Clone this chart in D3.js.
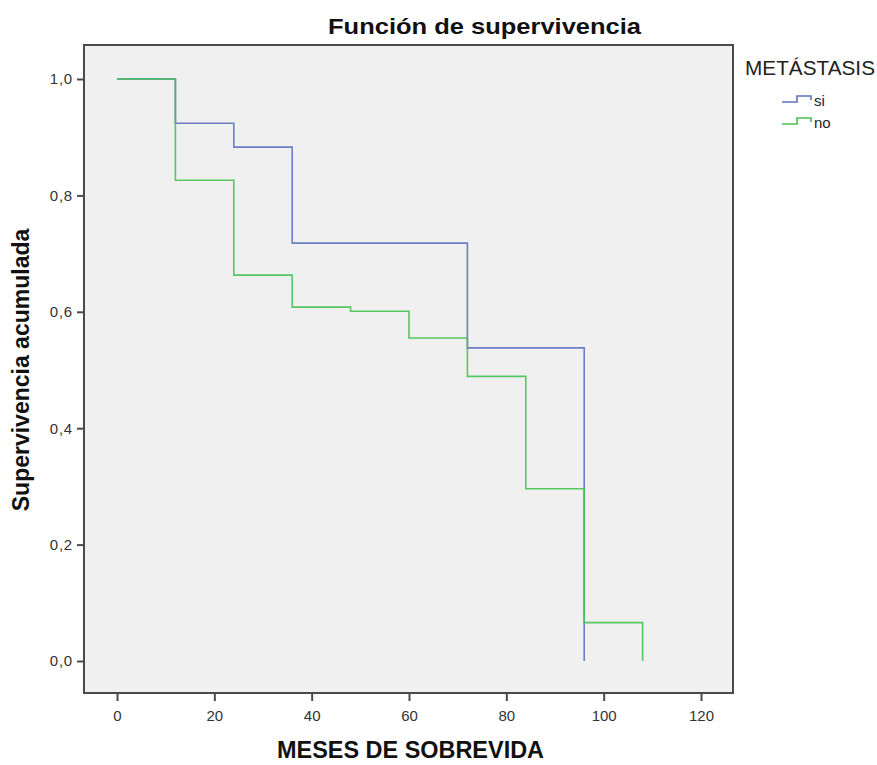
<!DOCTYPE html>
<html><head><meta charset="utf-8">
<script src="https://cdn.jsdelivr.net/npm/d3@7"></script>
<style>body{margin:0;background:#fff;} text{font-family:"Liberation Sans",Arial,sans-serif;}</style>
</head><body><svg id="c" width="877" height="765"></svg>
<script>
const title = "Función de supervivencia";
const xLabel = "MESES DE SOBREVIDA";
const yLabel = "Supervivencia acumulada";
const legendTitle = "METÁSTASIS";
const seriesNames = ["si", "no"];
const seriesColors = ["#5d70bf", "#45c253"];
const xTicks = [0, 20, 40, 60, 80, 100, 120];
const yTicks = [0, 0.2, 0.4, 0.6, 0.8, 1.0];
// Kaplan-Meier steps: times and survival after each time
const siTimes = [0, 12, 24, 36, 72, 96];
const siSurv  = [1.0, 0.924, 0.883, 0.718, 0.538, 0.0];
const noTimes = [0, 12, 24, 36, 48, 60, 72, 84, 96, 108];
const noSurv  = [1.0, 0.826, 0.663, 0.608, 0.601, 0.555, 0.489, 0.296, 0.066, 0.0];

const svg = d3.select("#c");
const L = 84, R = 733, T = 45, B = 693;
const x = d3.scaleLinear().domain([0, 120]).range([117, 701]);
const y = d3.scaleLinear().domain([0, 1]).range([661, 79]);

svg.append("rect").attr("x", L).attr("y", T).attr("width", R - L).attr("height", B - T)
  .attr("fill", "#f0f0f0").attr("stroke", "#4a4a4a").attr("stroke-width", 2);

// axes
const yAxis = svg.append("g").attr("transform", `translate(${L},0)`)
  .call(d3.axisLeft(y).tickValues(yTicks).tickSize(7).tickPadding(4).tickFormat(d => d3.format(".1f")(d).replace(".", ",")));
const xAxis = svg.append("g").attr("transform", `translate(0,${B})`)
  .call(d3.axisBottom(x).tickValues(xTicks).tickSize(8).tickPadding(9).tickFormat(d3.format("d")));
[yAxis, xAxis].forEach(a => {
  a.select(".domain").remove();
  a.selectAll("line").attr("stroke", "#4a4a4a").attr("stroke-width", 2);
  a.selectAll("text").attr("font-size", 15).attr("fill", "#333");
});
yAxis.selectAll("text").attr("letter-spacing", 0.8);

function stepData(times, surv) {
  const pts = [];
  for (let i = 0; i < times.length; i++) {
    if (i > 0) pts.push([times[i], surv[i - 1]]);
    pts.push([times[i], surv[i]]);
  }
  return pts;
}
const line = d3.line().x(d => x(d[0])).y(d => y(d[1]));
const series = [stepData(siTimes, siSurv), stepData(noTimes, noSurv)];
series.forEach((pts, i) => {
  svg.append("path").attr("d", line(pts)).attr("fill", "none")
    .attr("stroke", seriesColors[i]).attr("stroke-width", 1.6).attr("stroke-opacity", 0.9);
});

// titles
svg.append("text").attr("x", 328).attr("y", 34).attr("textLength", 313).attr("lengthAdjust", "spacingAndGlyphs")
  .attr("font-size", 22).attr("font-weight", "bold").attr("fill", "#111").text(title);
svg.append("text").attr("x", 277).attr("y", 758).attr("textLength", 267).attr("lengthAdjust", "spacingAndGlyphs")
  .attr("font-size", 23).attr("font-weight", "bold").attr("fill", "#111").text(xLabel);
svg.append("text").attr("transform", "translate(29,370) rotate(-90)").attr("text-anchor", "middle")
  .attr("font-size", 23).attr("font-weight", "bold").attr("fill", "#111").text(yLabel);

// legend
svg.append("text").attr("x", 745).attr("y", 75).attr("textLength", 130).attr("lengthAdjust", "spacingAndGlyphs")
  .attr("font-size", 20).attr("fill", "#222").text(legendTitle);
seriesNames.forEach((n, i) => {
  const yy = 102 + i * 22;
  svg.append("path").attr("d", `M782,${yy}H797V${yy - 6}H811V${yy - 2}`)
    .attr("fill", "none").attr("stroke", seriesColors[i]).attr("stroke-width", 1.6);
  svg.append("text").attr("x", 814).attr("y", yy + 4).attr("font-size", 15).attr("fill", "#222").text(n);
});
</script></body></html>
